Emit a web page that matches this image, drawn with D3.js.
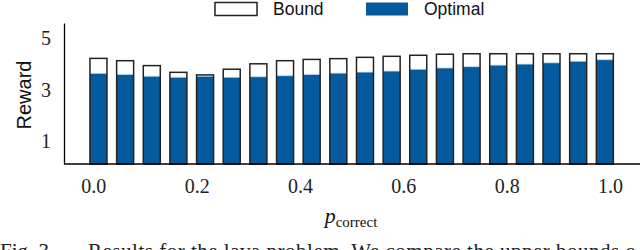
<!DOCTYPE html>
<html><head><meta charset="utf-8">
<script src="https://cdn.jsdelivr.net/npm/d3@7"></script>
<style>html,body{margin:0;padding:0;background:#fff;overflow:hidden}</style>
</head><body><svg id="c" width="640" height="250"></svg>
<script>
const pCorrect = [0.01, 0.0616, 0.1132, 0.1647, 0.2163, 0.2679, 0.3195, 0.3711, 0.4226, 0.4742,
                  0.5258, 0.5774, 0.6289, 0.6805, 0.7321, 0.7837, 0.8353, 0.8868, 0.9384, 0.99];
const boundValues = [4.22, 4.13, 3.94, 3.68, 3.58, 3.80, 4.01, 4.13, 4.18, 4.21,
                     4.26, 4.30, 4.34, 4.38, 4.40, 4.40, 4.40, 4.40, 4.40, 4.40];
const optimalValues = [3.64, 3.60, 3.53, 3.49, 3.53, 3.49, 3.51, 3.55, 3.60, 3.65,
                       3.69, 3.73, 3.80, 3.85, 3.90, 3.96, 4.00, 4.05, 4.11, 4.17];
const xTickValues = [0, 0.2, 0.4, 0.6, 0.8, 1.0];
const yTickValues = [1, 3, 5];
const seriesNames = ["Bound", "Optimal"];

const blue = "#045a9d", edge = "#222";
const svg = d3.select("#c");
const x = d3.scaleLinear().domain([0, 1]).range([93.3, 610]);
const y = d3.scaleLinear().domain([0.13, 5.59]).range([164, 23]);
const base = y.range()[0];
const bw = 17;

const data = pCorrect.map((p, i) => ({p, b: boundValues[i], o: optimalValues[i]}));

// bound (white) bars
svg.append("g").selectAll("rect").data(data).join("rect")
  .attr("x", d => x(d.p) - bw/2).attr("width", bw)
  .attr("y", d => y(d.b)).attr("height", d => base - y(d.b))
  .attr("fill", "#fff");
// optimal bars
svg.append("g").selectAll("rect").data(data).join("rect")
  .attr("x", d => x(d.p) - bw/2).attr("width", bw)
  .attr("y", d => y(d.o)).attr("height", d => base - y(d.o))
  .attr("fill", blue);
// optimal top highlight
svg.append("g").selectAll("line").data(data).join("line")
  .attr("x1", d => x(d.p) - bw/2).attr("x2", d => x(d.p) + bw/2)
  .attr("y1", d => y(d.o)).attr("y2", d => y(d.o))
  .attr("stroke", "#cfe0f0").attr("stroke-width", 0.8);
// bound outlines
svg.append("g").selectAll("rect").data(data).join("rect")
  .attr("x", d => x(d.p) - bw/2).attr("width", bw)
  .attr("y", d => y(d.b)).attr("height", d => base - y(d.b))
  .attr("fill", "none").attr("stroke", edge).attr("stroke-width", 1.5);

// axes
const ya = svg.append("g").attr("transform", "translate(64,0)")
  .call(d3.axisLeft(y).tickValues(yTickValues).tickSize(0).tickPadding(13).tickFormat(d3.format("d")));
ya.select(".domain").attr("stroke", "#000").attr("stroke-width", 1.3);
ya.selectAll("text").attr("font-family", "Liberation Serif, serif").attr("font-size", 20).attr("fill", "#222");

const xa = svg.append("g").attr("transform", `translate(0,${base})`)
  .call(d3.axisBottom(x).tickValues(xTickValues).tickSize(0).tickPadding(15).tickFormat(d3.format(".1f")));
xa.select(".domain").remove();
xa.selectAll("text").attr("font-family", "Liberation Serif, serif").attr("font-size", 20).attr("fill", "#222");
svg.append("line").attr("x1", 64).attr("x2", 640).attr("y1", base).attr("y2", base)
  .attr("stroke", "#000").attr("stroke-width", 1.3);

// axis titles
svg.append("text").attr("transform", "translate(31,95) rotate(-90)")
  .attr("text-anchor", "middle").attr("font-family", "Liberation Sans, sans-serif")
  .attr("font-size", 20).attr("fill", "#111").text("Reward");
const xl = svg.append("text").attr("x", 351).attr("y", 223).attr("text-anchor", "middle")
  .attr("font-family", "Liberation Serif, serif").attr("fill", "#111");
xl.append("tspan").attr("font-style", "italic").attr("font-size", 22).text("p");
xl.append("tspan").attr("font-size", 15).attr("dy", 4).text("correct");

// legend
const lg = svg.append("g");
const legendItems = [
  {name: seriesNames[0], fill: "#fff", stroke: edge, bx: 215, tx: 273},
  {name: seriesNames[1], fill: blue, stroke: "none", bx: 366, tx: 424}
];
legendItems.forEach(it => {
  lg.append("rect").attr("x", it.bx).attr("y", 2.5).attr("width", 42).attr("height", 13)
    .attr("fill", it.fill).attr("stroke", it.stroke).attr("stroke-width", 1.5);
  lg.append("text").attr("x", it.tx).attr("y", 15).attr("font-family", "Liberation Sans, sans-serif")
    .attr("font-size", 17.5).attr("fill", "#111").text(it.name);
});

// caption (cut off at bottom, as in the reference)
const cap = svg.append("g").attr("font-family", "Liberation Serif, serif").attr("font-size", 21).attr("fill", "#222");
cap.append("text").attr("x", 0).attr("y", 258).text("Fig. 3.");
cap.append("text").attr("x", 88).attr("y", 258)
  .attr("textLength", 548).attr("lengthAdjust", "spacing")
  .text("Results for the lava problem. We compare the upper bounds o");
</script></body></html>
